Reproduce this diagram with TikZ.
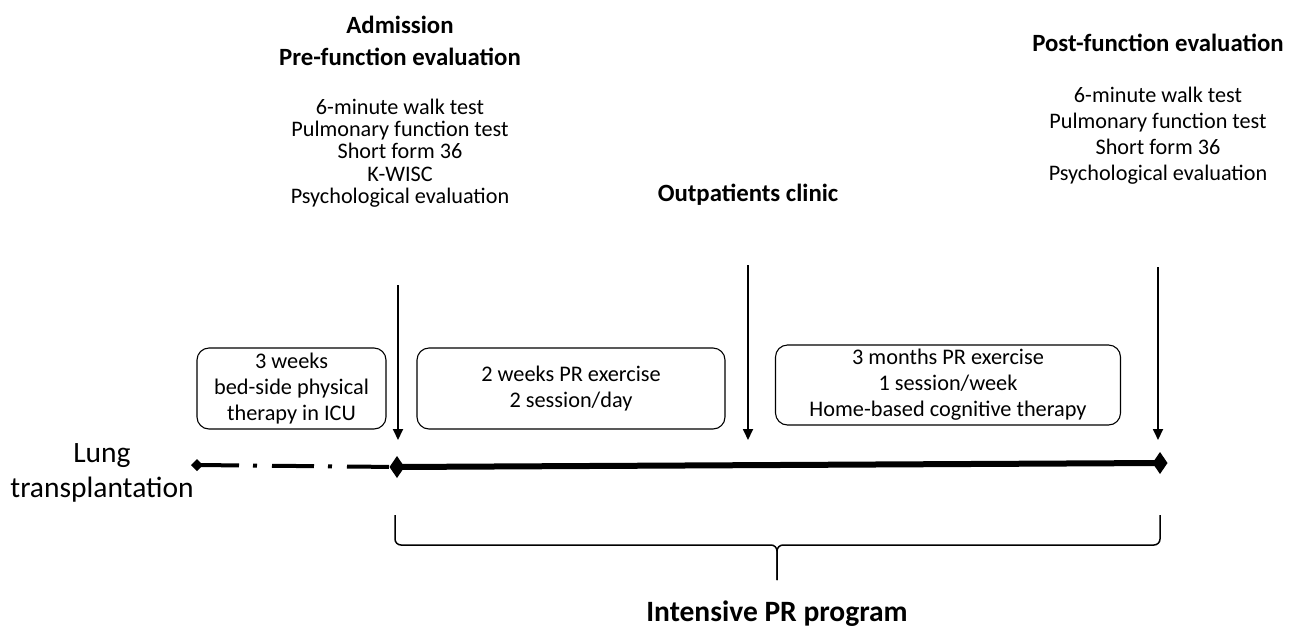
\documentclass[tikz,border=0pt]{standalone}
\usepackage{fontspec}
\setmainfont{Carlito}
\usetikzlibrary{arrows.meta,positioning,shapes.geometric}

\begin{document}
\begin{tikzpicture}[
  x=1pt, y=-1pt,
  >={Triangle[width=10pt,length=11pt]},
  every node/.style={inner sep=0pt, outer sep=0pt},
  txt/.style={align=center, font=\fontsize{22.2}{22.3}\selectfont},
  head/.style={align=center, font=\fontsize{24.8}{32}\selectfont\bfseries},
  box/.style={draw, rounded corners=12pt, line width=1.1pt, align=center, font=\fontsize{22.3}{26}\selectfont, minimum height=81pt},
  arrow/.style={->, line width=1.8pt},
  diam/.style={diamond, fill=black, minimum width=15pt, minimum height=22pt}
]
\useasboundingbox (0,0) rectangle (1293,630);

% headings and test lists
\node[head] (admit) at (400,41) {Admission\\Pre-function evaluation};
\node[txt] (pretests) at (400,153) {6-minute walk test\\Pulmonary function test\\Short form 36\\K-WISC\\Psychological evaluation};
\node[head] (clinic) at (748,195) {Outpatients clinic};
\node[head] (postfn) at (1158,43) {Post-function evaluation};
\node[txt, font=\fontsize{22.2}{26}\selectfont] (posttests) at (1158,136) {6-minute walk test\\Pulmonary function test\\Short form 36\\Psychological evaluation};

% phase boxes
\node[box, minimum width=189pt] (icu) at (291.5,388.5) {3 weeks\\bed-side physical\\therapy in ICU};
\node[box, minimum width=308pt] (intense) at (571,388.5) {2 weeks PR exercise\\2 session/day};
\node[box, minimum width=345pt, minimum height=80pt] (home) at (948,385) {3 months PR exercise\\1 session/week\\Home-based cognitive therapy};

% time line
\node[diam, minimum width=12pt, minimum height=12pt] (lt) at (197,465) {};
\node[diam] (adm) at (397,467) {};
\node[diam] (post) at (1160,463) {};
\node[font=\fontsize{29.5}{35}\selectfont, align=center] (lung) at (102,473) {Lung\\transplantation};

\draw[line width=4pt, dash pattern=on 42pt off 14pt on 4pt off 15pt] (lt.center) -- (adm.center);
\draw[line width=6pt] (adm.center) -- (post.center);

% arrows down to the time line
\coordinate (a1) at (398,285);
\coordinate (a1e) at (398,440);
\coordinate (a2) at (748,265);
\coordinate (a2e) at (748,440);
\coordinate (a3) at (1158,267);
\coordinate (a3e) at (1158,440);
\draw[arrow] (a1) -- (a1e);
\draw[arrow] (a2) -- (a2e);
\draw[arrow] (a3) -- (a3e);

% brace
\coordinate (bl) at (395,515);
\coordinate (br) at (1160,515);
\coordinate (btip) at (777,580);
\draw[line width=1.5pt, rounded corners=6pt] (bl) |- (btip |- 0,545) -- (btip);
\draw[line width=1.5pt, rounded corners=6pt] (br) |- (btip |- 0,545) -- (btip);
\node[font=\fontsize{29.5}{32}\selectfont\bfseries] (prog) at (777,614) {Intensive PR program};
\end{tikzpicture}
\end{document}
